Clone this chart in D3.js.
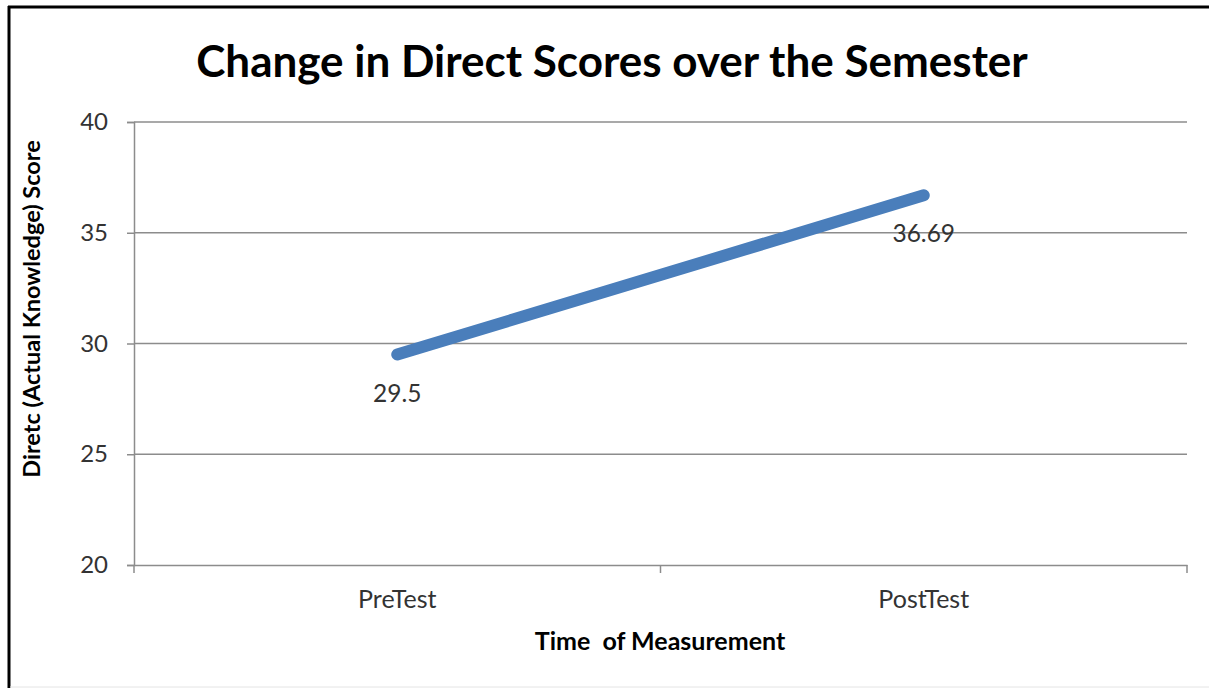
<!DOCTYPE html>
<html>
<head>
<meta charset="utf-8">
<script src="https://cdn.jsdelivr.net/npm/d3@7"></script>
<style>
  body { margin: 0; background: #fff; }
  svg text { font-family: Lato, "Open Sans", sans-serif; }
</style>
</head>
<body>
<svg id="chart" width="1209" height="688"></svg>
<script>
const categories = ["PreTest", "PostTest"];
const scores = [29.5, 36.69];
const scoreLabels = ["29.5", "36.69"];
const yTicks = [20, 25, 30, 35, 40];

const svg = d3.select("#chart");
const plotLeft = 134, plotRight = 1187, plotTop = 122, plotBottom = 565;

const x = d3.scaleBand().domain(categories).range([plotLeft, plotRight]).padding(0);
const y = d3.scaleLinear().domain([20, 40]).range([plotBottom, plotTop]);
const cx = d => x(d) + x.bandwidth() / 2;

// frame
svg.append("line").attr("x1", 9).attr("x2", 9).attr("y1", 6).attr("y2", 688)
  .attr("stroke", "#000").attr("stroke-width", 3);
svg.append("line").attr("x1", 8).attr("x2", 1209).attr("y1", 7).attr("y2", 7)
  .attr("stroke", "#000").attr("stroke-width", 3);
svg.append("line").attr("x1", 10).attr("x2", 1209).attr("y1", 687).attr("y2", 687)
  .attr("stroke", "#e4e4e4").attr("stroke-width", 1);

// title
svg.append("text")
  .attr("x", 612).attr("y", 77)
  .attr("text-anchor", "middle")
  .attr("font-size", 44).attr("font-weight", "bold")
  .attr("fill", "#000")
  .text("Change in Direct Scores over the Semester");

// gridlines
svg.append("g").selectAll("line")
  .data(yTicks.filter(t => t > 20))
  .enter().append("line")
  .attr("x1", plotLeft).attr("x2", plotRight)
  .attr("y1", d => y(d)).attr("y2", d => y(d))
  .attr("stroke", "#8c8c8c").attr("stroke-width", 1.5);

// y axis
const yAxis = svg.append("g")
  .attr("transform", `translate(${plotLeft},0)`)
  .call(d3.axisLeft(y).tickValues(yTicks).tickSize(7).tickPadding(19));
yAxis.select(".domain").attr("stroke", "#8c8c8c").attr("stroke-width", 1.5);
yAxis.selectAll(".tick line").attr("stroke", "#8c8c8c").attr("stroke-width", 1.5);
yAxis.selectAll(".tick text").attr("font-size", 24).attr("fill", "#333")
  .attr("font-family", "Lato, sans-serif");

// x axis
const xAxis = svg.append("g")
  .attr("transform", `translate(0,${plotBottom})`)
  .call(d3.axisBottom(x).tickSize(0));
xAxis.select(".domain").attr("stroke", "#8c8c8c").attr("stroke-width", 1.5);
xAxis.selectAll(".tick text")
  .attr("y", 43).attr("dy", null)
  .attr("font-size", 25).attr("fill", "#333")
  .attr("font-family", "Lato, sans-serif");

// tick marks between categories
const bounds = categories.map(c => x(c)).concat([x(categories[categories.length - 1]) + x.bandwidth()]);
svg.append("g").selectAll("line")
  .data(bounds)
  .enter().append("line")
  .attr("x1", d => d).attr("x2", d => d)
  .attr("y1", plotBottom).attr("y2", plotBottom + 8)
  .attr("stroke", "#8c8c8c").attr("stroke-width", 1.5);

// axis titles
svg.append("text")
  .attr("transform", "translate(40,309) rotate(-90)")
  .attr("text-anchor", "middle")
  .attr("font-size", 23.5).attr("font-weight", "bold").attr("fill", "#000")
  .text("Diretc (Actual Knowledge) Score");

svg.append("text")
  .attr("x", 660).attr("y", 650)
  .attr("text-anchor", "middle")
  .attr("font-size", 25).attr("font-weight", "bold").attr("fill", "#000")
  .style("white-space", "pre")
  .text("Time  of Measurement");

// series line
const pts = categories.map((c, i) => [cx(c), y(scores[i])]);
svg.append("path")
  .datum(pts)
  .attr("d", d3.line())
  .attr("fill", "none")
  .attr("stroke", "#4a7ebb")
  .attr("stroke-width", 12)
  .attr("stroke-linecap", "round");

// data labels
svg.append("g").selectAll("text")
  .data(categories)
  .enter().append("text")
  .attr("x", d => cx(d))
  .attr("y", (d, i) => y(scores[i]) + 47)
  .attr("text-anchor", "middle")
  .attr("font-size", 24.5).attr("fill", "#333")
  .text((d, i) => scoreLabels[i]);
</script>
</body>
</html>
